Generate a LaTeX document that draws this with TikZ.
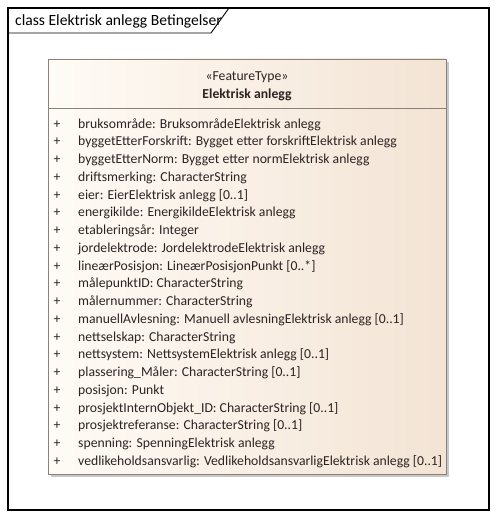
\documentclass[tikz,border=0pt]{standalone}
\usepackage{fontspec}
\setmainfont{Carlito}
\definecolor{boxleft}{RGB}{255,251,246}
\definecolor{boxright}{RGB}{243,228,212}
\definecolor{boxborder}{RGB}{140,128,122}
\definecolor{shadowc}{RGB}{200,200,200}
\definecolor{textc}{RGB}{45,35,35}
\begin{document}
\begin{tikzpicture}[x=1pt,y=-1pt,
  attr/.style={anchor=base west,inner sep=0pt,font=\fontsize{13.7}{15}\selectfont,text=textc},
  plus/.style={anchor=base,inner sep=0pt,font=\fontsize{13.7}{15}\selectfont,text=textc}]
\useasboundingbox (0,0) rectangle (495,519);
% frame
\draw[line width=1.1pt] (8,8) rectangle (489,510);
\draw[line width=0.9pt] (8,33) -- (211,33) -- (229,8);
\node[anchor=base west,inner sep=0pt,font=\fontsize{15.6}{18}\selectfont] (title) at (15,26) {class Elektrisk anlegg Betingelser};
% shadow
\fill[shadowc] (51,62) rectangle (449,477);
% class box
\shade[left color=boxleft,right color=boxright] (48,59) rectangle (446,474);
\draw[boxborder,line width=0.8pt] (48,59) rectangle (446,474);
\draw[boxborder,line width=0.8pt] (48,108) -- (446,108);
\node[anchor=base,inner sep=0pt,font=\fontsize{13.7}{15}\selectfont,text=textc] (stereo) at (247,80) {«FeatureType»};
\node[anchor=base,inner sep=0pt,font=\bfseries\fontsize{13.7}{15}\selectfont,text=textc] (name) at (247,98) {Elektrisk anlegg};
\foreach \t [count=\i from 0] in {
  {bruksområde: BruksområdeElektrisk anlegg},
  {byggetEtterForskrift: Bygget etter forskriftElektrisk anlegg},
  {byggetEtterNorm: Bygget etter normElektrisk anlegg},
  {driftsmerking: CharacterString},
  {eier: EierElektrisk anlegg [0..1]},
  {energikilde: EnergikildeElektrisk anlegg},
  {etableringsår: Integer},
  {jordelektrode: JordelektrodeElektrisk anlegg},
  {lineærPosisjon: LineærPosisjonPunkt [0..*]},
  {målepunktID: CharacterString},
  {målernummer: CharacterString},
  {manuellAvlesning: Manuell avlesningElektrisk anlegg [0..1]},
  {nettselskap: CharacterString},
  {nettsystem: NettsystemElektrisk anlegg [0..1]},
  {plassering\_Måler: CharacterString [0..1]},
  {posisjon: Punkt},
  {prosjektInternObjekt\_ID: CharacterString [0..1]},
  {prosjektreferanse: CharacterString [0..1]},
  {spenning: SpenningElektrisk anlegg},
  {vedlikeholdsansvarlig: VedlikeholdsansvarligElektrisk anlegg [0..1]}} {
  \node[plus] (p\i) at (57,{128+\i*17.75}) {+};
  \node[attr] (a\i) at (78,{128+\i*17.75}) {\t};
}
\end{tikzpicture}
\end{document}
